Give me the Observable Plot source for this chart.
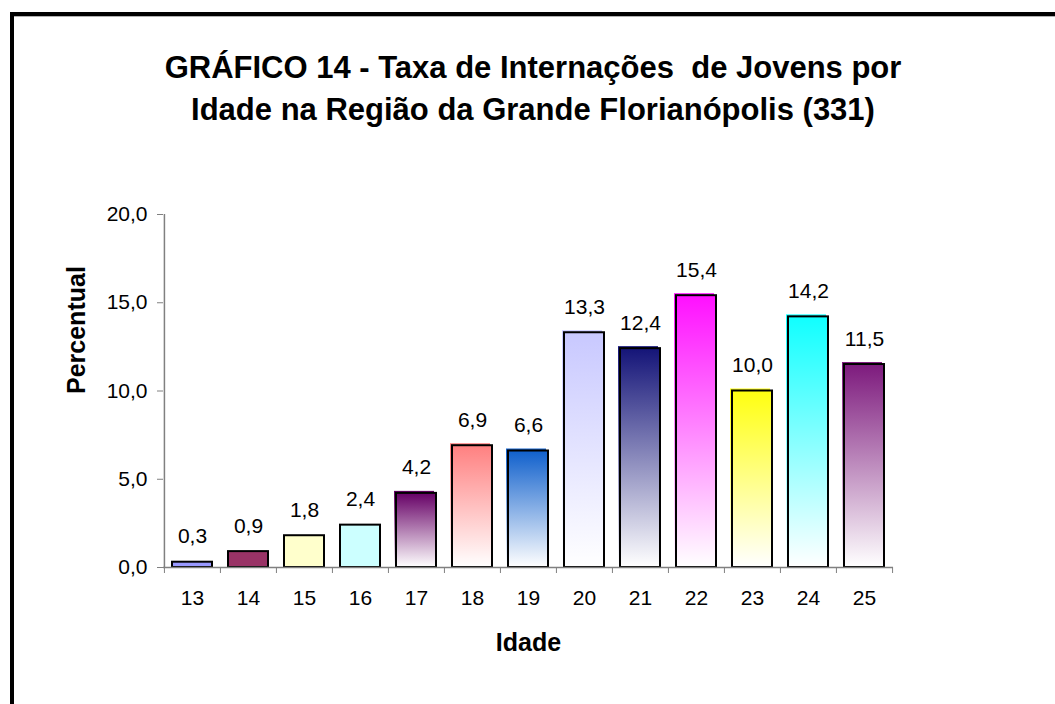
<!DOCTYPE html>
<html>
<head>
<meta charset="utf-8">
<script src="https://cdn.jsdelivr.net/npm/d3@7"></script>
<script src="https://cdn.jsdelivr.net/npm/@observablehq/plot@0.6"></script>
<style>
html, body { margin: 0; padding: 0; background: #fff; overflow: hidden; width: 1055px; height: 704px; }
#frame { position: absolute; left: 10px; top: 12px; width: 1200px; height: 900px;
  border-left: 4px solid #000; border-top: 4px solid #000; box-shadow: inset 0 1px 0 #b0b0b0; }
#title { position: absolute; left: 0; top: 47px; width: 1066px; text-align: center;
  font: bold 31px "Liberation Sans", Arial, sans-serif; line-height: 42px; white-space: pre; color: #000; }
#chart { position: absolute; left: 0; top: 140px; }
</style>
</head>
<body>
<div id="frame"></div>
<div id="title"></div>
<div id="chart"></div>
<script>
// ---- data ----
const ages = ["13", "14", "15", "16", "17", "18", "19", "20", "21", "22", "23", "24", "25"];
const values = [0.3, 0.9, 1.8, 2.4, 4.2, 6.9, 6.6, 13.3, 12.4, 15.4, 10.0, 14.2, 11.5];
const yTicks = [0, 5, 10, 15, 20];
const titleLines = ["GRÁFICO 14 - Taxa de Internações  de Jovens por", "Idade na Região da Grande Florianópolis (331)"];
const xLabel = "Idade";
const yLabel = "Percentual";
// ---- styles ----
const barColors = ["#9999ff", "#993366", "#ffffcc", "#ccffff", "#660066", "#ff8080", "#1060cc",
                   "#c8c8ff", "#141478", "#ff10ff", "#ffff10", "#10ffff", "#7d1a7d"];
const gradientBars = [false, false, false, false, true, true, true, true, true, true, true, true, true];

document.getElementById("title").textContent = titleLines.join("\n");

const W = 1055, H = 527, mt = 74, mb = 100, ml = 163, mr = 162;
const pInner = 0.29;
const step = (W - ml - mr) / ages.length;
const gray = "#808080";
const fmt = v => v.toFixed(1).replace(".", ",");

const data = ages.map((a, i) => ({
  age: a, value: values[i], grad: gradientBars[i],
  fill: gradientBars[i] ? `url(#grad${a})` : barColors[i]
}));

const plot = Plot.plot({
  width: W, height: H, marginTop: mt, marginBottom: mb, marginLeft: ml, marginRight: mr,
  style: { fontFamily: '"Liberation Sans", Arial, sans-serif', background: "transparent", color: "black", overflow: "visible" },
  x: { type: "band", domain: ages, paddingInner: pInner, paddingOuter: pInner / 2, label: null },
  y: { domain: [0, 20], label: null },
  color: { type: "identity" },
  marks: [
    Plot.barY(data.filter(d => d.grad), { x: "age", y: "value", fill: "fill", dx: -2, dy: -2 }),
    Plot.barY(data, { x: "age", y: "value", fill: "fill", stroke: "black", strokeWidth: 2 }),
    Plot.ruleY([0], { stroke: gray, strokeWidth: 1.5 }),
    Plot.ruleX([ages[0]], { x: d => d, y1: 0, y2: 20, dx: -step / 2, stroke: gray, strokeWidth: 1.5 }),
    Plot.axisY({ ticks: yTicks, tickSize: 6, tickPadding: 10, tickFormat: fmt, fontSize: 21, stroke: gray, fill: "black" }),
    Plot.axisX(ages, { tickSize: 6, tickFormat: () => "", dx: -step / 2, stroke: gray }),
    Plot.axisX([ages[ages.length - 1]], { tickSize: 6, tickFormat: () => "", dx: step / 2, stroke: gray }),
    Plot.axisX({ tickSize: 0, tickPadding: 23, fontSize: 21, fill: "black" }),
    Plot.text(data, { x: "age", y: "value", text: d => fmt(d.value), dy: -19, lineAnchor: "bottom", fontSize: 21, fill: "black" }),
    Plot.text([xLabel], { text: d => d, frameAnchor: "bottom", dy: 75, lineAnchor: "middle", fontSize: 25, fontWeight: "bold", fill: "black" }),
    Plot.text([yLabel], { text: d => d, frameAnchor: "left", dx: -87, dy: 3, rotate: -90, lineAnchor: "middle", fontSize: 25, fontWeight: "bold", fill: "black" })
  ]
});

// gradient definitions (top colour fading to white)
const svg = d3.select(plot);
const defs = svg.insert("defs", ":first-child");
data.forEach((d, i) => {
  if (!d.grad) return;
  const g = defs.append("linearGradient").attr("id", `grad${d.age}`)
    .attr("x1", 0).attr("y1", 0).attr("x2", 0).attr("y2", 1);
  g.append("stop").attr("offset", 0).attr("stop-color", barColors[i]);
  g.append("stop").attr("offset", 1).attr("stop-color", "#ffffff");
});

document.getElementById("chart").appendChild(plot);
</script>
</body>
</html>
